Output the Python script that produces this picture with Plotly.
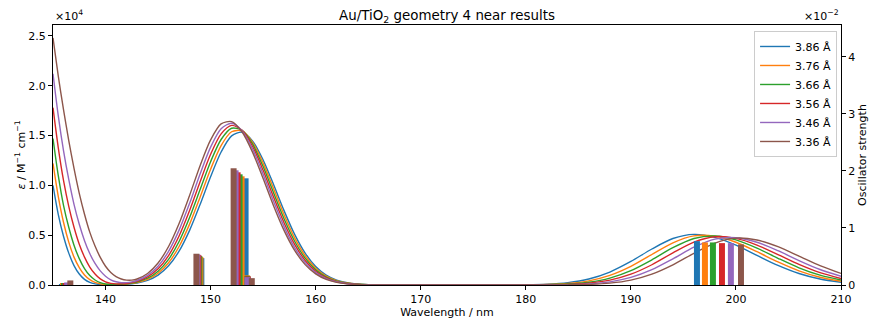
import plotly.graph_objects as go

# ---------------- data ----------------
labels = ["3.86 Å", "3.76 Å", "3.66 Å", "3.56 Å", "3.46 Å", "3.36 Å"]
colors = ["#1f77b4", "#ff7f0e", "#2ca02c", "#d62728", "#9467bd", "#8c564b"]

wavelength = [135, 135.5, 136, 136.5, 137, 137.5, 138, 138.5, 139, 139.5, 140, 140.5,
              141, 141.5, 142, 142.5, 143, 144, 145, 146, 147, 148, 149, 150, 151, 152,
              153, 154, 155, 156, 157, 158, 159, 160, 161, 162, 163, 164, 165, 166, 167,
              168, 170, 172, 175, 178, 180, 182, 184, 186, 188, 190, 192, 194, 196, 198,
              200, 202, 204, 206, 208, 210]

eps_386 = [10000, 7100, 4900, 3200, 1950, 1100, 560, 260, 113, 45, 19, 20,
           29, 48, 80, 128, 202, 470, 996, 1926, 3402, 5487, 8085, 10871, 13352, 14972,
           15334, 14446, 12554, 10066, 7443, 5080, 3197, 1857, 995, 491, 224, 94, 37, 13, 4,
           1, 0, 0, 0, 5, 22, 78, 237, 605, 1302, 2362, 3615, 4666, 5080, 4787,
           4005, 2975, 1963, 1150, 598, 276]
eps_376 = [12200, 8900, 6300, 4300, 2800, 1750, 1000, 532, 254, 107, 47, 31,
           37, 61, 100, 160, 249, 566, 1176, 2231, 3863, 6108, 8819, 11627, 13997, 15384,
           15459, 14315, 12238, 9658, 7036, 4732, 2937, 1684, 890, 435, 196, 82, 31, 11, 3,
           1, 0, 0, 0, 3, 12, 47, 153, 419, 963, 1869, 3063, 4232, 4932, 4894,
           4294, 3345, 2315, 1422, 775, 376]
eps_366 = [14700, 11000, 8000, 5800, 4000, 2650, 1651, 952, 505, 239, 106, 58,
           57, 77, 125, 198, 305, 680, 1384, 2572, 4368, 6770, 9581, 12379, 14607, 15737,
           15523, 14134, 11889, 9238, 6629, 4395, 2691, 1521, 795, 384, 171, 70, 27, 9, 3,
           1, 0, 0, 0, 2, 7, 28, 96, 281, 694, 1443, 2530, 3742, 4669, 4918,
           4526, 3697, 2682, 1729, 988, 502]
eps_356 = [17800, 13800, 10500, 7900, 5800, 4100, 2802, 1804, 1107, 612, 321, 165,
           109, 112, 155, 243, 372, 812, 1622, 2954, 4915, 7467, 10357, 13119, 15172, 16023,
           15527, 13906, 11511, 8809, 6229, 4072, 2461, 1373, 709, 338, 149, 61, 23, 8, 2,
           1, 0, 0, 0, 1, 4, 16, 59, 184, 487, 1083, 2033, 3219, 4299, 4843,
           4679, 4009, 3050, 2061, 1236, 658]
eps_346 = [21200, 17000, 13500, 10600, 8100, 6100, 4453, 3155, 2159, 1415, 877, 525,
           325, 241, 242, 312, 451, 967, 1890, 3375, 5506, 8198, 11146, 13839, 15688, 16241,
           15473, 13634, 11110, 8374, 5837, 3762, 2243, 1237, 631, 298, 130, 52, 20, 7, 2,
           0, 0, 0, 0, 0, 2, 8, 33, 111, 316, 759, 1538, 2629, 3791, 4611,
           4745, 4290, 3443, 2453, 1553, 872]
eps_336 = [24800, 21000, 17600, 14500, 11700, 9200, 7103, 5306, 3911, 2770, 1884, 1258,
           845, 602, 489, 486, 599, 1158, 2208, 3862, 6168, 8995, 11976, 14562, 16167, 16402,
           15359, 13316, 10686, 7937, 5458, 3474, 2047, 1118, 564, 264, 114, 46, 17, 6, 2,
           0, 0, 0, 0, 0, 1, 4, 17, 61, 188, 493, 1088, 2024, 3178, 4209,
           4701, 4512, 3843, 2906, 1952, 1164]

# stick spectra (wavelength / nm, oscillator strength)
stick_nm_386 = [135.85, 149.12, 153.33, 153.00, 196.29]
stick_f_386 = [0.00015, 0.00471, 0.01870, 0.00180, 0.00769]
stick_nm_376 = [135.95, 149.03, 152.95, 153.45, 197.05]
stick_f_376 = [0.00020, 0.00489, 0.01905, 0.00170, 0.00746]
stick_nm_366 = [136.05, 148.93, 152.76, 153.50, 197.81]
stick_f_366 = [0.00025, 0.00507, 0.01940, 0.00160, 0.00746]
stick_nm_356 = [136.20, 148.84, 152.57, 153.55, 198.67]
stick_f_356 = [0.00030, 0.00524, 0.01975, 0.00150, 0.00734]
stick_nm_346 = [136.35, 148.74, 152.38, 153.50, 199.52]
stick_f_346 = [0.00045, 0.00536, 0.02010, 0.00137, 0.00734]
stick_nm_336 = [136.65, 148.65, 152.19, 153.92, 200.48]
stick_f_336 = [0.00080, 0.00548, 0.02046, 0.00120, 0.00711]

x_ticks = [140, 150, 160, 170, 180, 190, 200, 210]
y_ticks = [0, 5000, 10000, 15000, 20000, 25000]
y_ticktext = ["0.0", "0.5", "1.0", "1.5", "2.0", "2.5"]
y2_ticks = [0, 0.01, 0.02, 0.03, 0.04]
y2_ticktext = ["0", "1", "2", "3", "4"]

spectra = [eps_386, eps_376, eps_366, eps_356, eps_346, eps_336]
sticks = [(stick_nm_386, stick_f_386), (stick_nm_376, stick_f_376),
          (stick_nm_366, stick_f_366), (stick_nm_356, stick_f_356),
          (stick_nm_346, stick_f_346), (stick_nm_336, stick_f_336)]

# ---------------- figure ----------------
FONT = "DejaVu Sans"
fig = go.Figure()

for lab, col, ys in zip(labels, colors, spectra):
    fig.add_trace(go.Scatter(
        x=wavelength, y=ys, mode="lines", name=lab,
        line=dict(color=col, width=1.4, shape="spline", smoothing=0.8),
        yaxis="y", cliponaxis=True,
    ))

for lab, col, (sx, sf) in zip(labels, colors, sticks):
    fig.add_trace(go.Bar(
        x=sx, y=sf, width=0.57, marker=dict(color=col, line=dict(width=0)),
        yaxis="y2", showlegend=False, name=lab,
    ))

axis_common = dict(showline=True, linecolor="black", linewidth=1, ticks="outside",
                   ticklen=4, tickwidth=1, tickcolor="black", showgrid=False,
                   zeroline=False, automargin=False,
                   tickfont=dict(family=FONT, size=11, color="black"))

fig.update_layout(
    width=870, height=322,
    margin=dict(l=53, r=29, t=25, b=37),
    paper_bgcolor="white", plot_bgcolor="white",
    font=dict(family=FONT, size=11, color="black"),
    barmode="overlay",
    title=dict(text="Au/TiO<sub>2</sub> geometry 4 near results",
               x=0.5, xref="paper", xanchor="center",
               y=1 - 15 / 322, yref="container", yanchor="middle",
               automargin=False,
               font=dict(family=FONT, size=13.4, color="black")),
    xaxis=dict(range=[135, 210], tickvals=x_ticks, mirror=True,
               title=dict(text="Wavelength / nm", standoff=0,
                          font=dict(family=FONT, size=11)),
               **axis_common),
    yaxis=dict(range=[0, 26100], tickvals=y_ticks, ticktext=y_ticktext,
               title=dict(text="<i>ε</i> / M<sup>−1</sup> cm<sup>−1</sup>", standoff=0,
                          font=dict(family=FONT, size=11)),
               **axis_common),
    yaxis2=dict(range=[0, 0.04557], tickvals=y2_ticks, ticktext=y2_ticktext,
                overlaying="y", side="right",
                title=dict(text="Oscillator strength", standoff=4,
                           font=dict(family=FONT, size=11)),
                **axis_common),
    legend=dict(x=0.995, y=0.977, xanchor="right", yanchor="top",
                bgcolor="rgba(255,255,255,0.8)", bordercolor="#cccccc", borderwidth=1,
                font=dict(family=FONT, size=11, color="black")),
    annotations=[
        dict(text="×10<sup>4</sup>", xref="paper", yref="paper", x=0, y=1,
             xanchor="left", yanchor="bottom", showarrow=False,
             font=dict(family=FONT, size=11, color="black")),
        dict(text="×10<sup>−2</sup>", xref="paper", yref="paper", x=1, y=1,
             xanchor="right", yanchor="bottom", showarrow=False,
             font=dict(family=FONT, size=11, color="black")),
    ],
    showlegend=True,
)

fig.write_html("out.html")
